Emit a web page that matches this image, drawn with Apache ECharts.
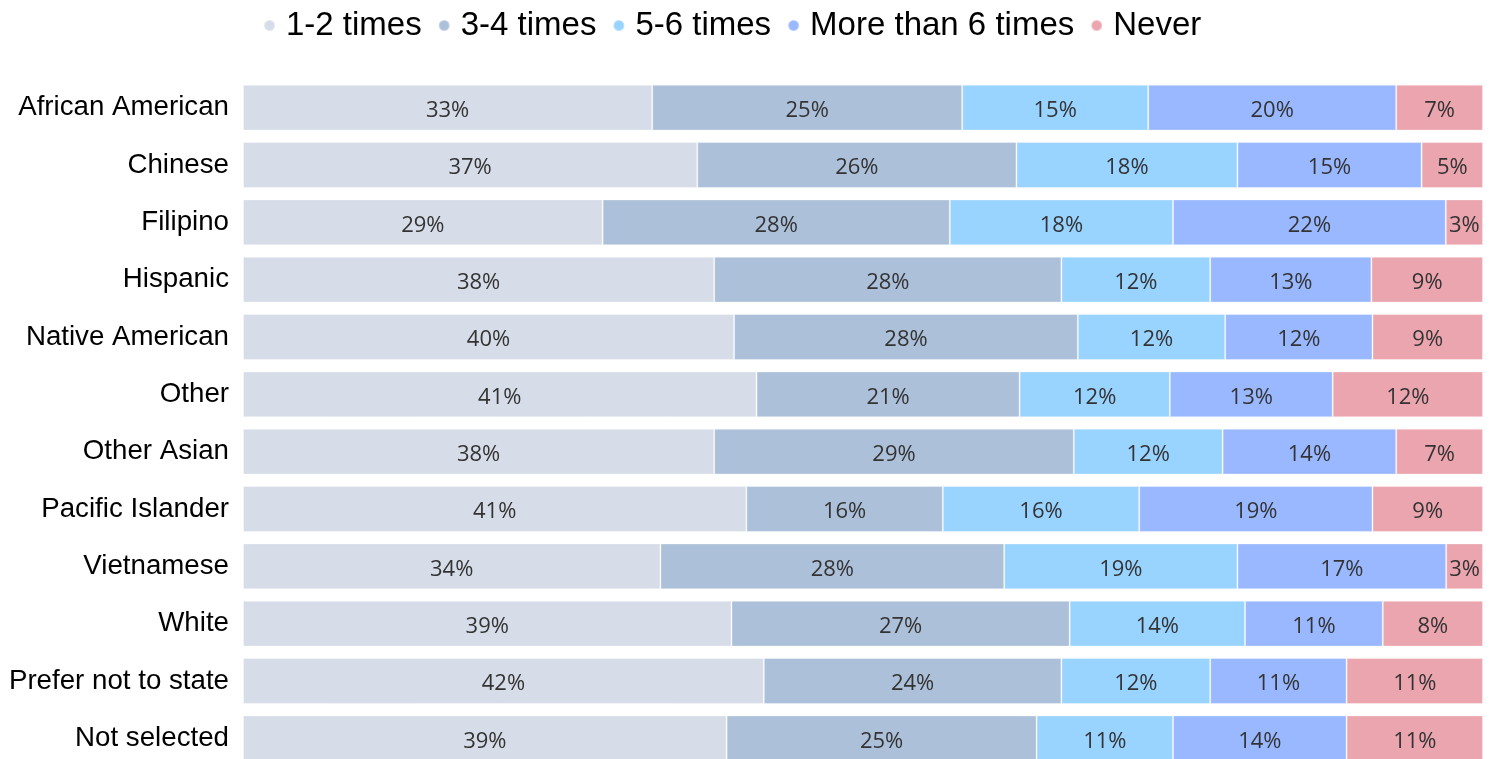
<!DOCTYPE html>
<html>
<head>
<meta charset="utf-8">
<script src="https://cdn.jsdelivr.net/npm/echarts@6/dist/echarts.min.js"></script>
<style>
  html, body { margin: 0; padding: 0; background: #ffffff; overflow: hidden; }
  #chart { width: 1494px; height: 767px; }
</style>
</head>
<body>
<div id="chart"></div>
<script>
// Groups, top to bottom
const categories = [
  'African American', 'Chinese', 'Filipino', 'Hispanic', 'Native American', 'Other',
  'Other Asian', 'Pacific Islander', 'Vietnamese', 'White', 'Prefer not to state', 'Not selected'
];

// Response frequency shares (%) per group
const times12   = [33, 37, 29, 38, 40, 41, 38, 41, 34, 39, 42, 39];
const times34   = [25, 26, 28, 28, 28, 21, 29, 16, 28, 27, 24, 25];
const times56   = [15, 18, 18, 12, 12, 12, 12, 16, 19, 14, 12, 11];
const moreThan6 = [20, 15, 22, 13, 12, 13, 14, 19, 17, 11, 11, 14];
const never     = [ 7,  5,  3,  9,  9, 12,  7,  9,  3,  8, 11, 11];

const seriesNames = ['1-2 times', '3-4 times', '5-6 times', 'More than 6 times', 'Never'];
const seriesValues = [times12, times34, times56, moreThan6, never];
const colors = ['#d6dde8', '#adc0da', '#99d3ff', '#99b8ff', '#eba5ae'];

// Each row is stacked to a full 100% bar
const rowTotals = categories.map((_, i) => seriesValues.reduce((s, arr) => s + arr[i], 0));

const chart = echarts.init(document.getElementById('chart'), null, { renderer: 'canvas' });

chart.setOption({
  backgroundColor: '#ffffff',
  animation: false,
  color: colors,
  legend: {
    top: 4,
    left: 258,
    icon: 'circle',
    itemWidth: 11,
    itemHeight: 11,
    itemGap: 16,
    textStyle: {
      fontFamily: '"Liberation Sans", Arial, sans-serif',
      fontSize: 33,
      color: '#000000',
      padding: [0, 0, 0, 6]
    },
    data: seriesNames
  },
  grid: { left: 243, right: 11, top: 79, bottom: 0, containLabel: false },
  xAxis: {
    type: 'value',
    min: 0,
    max: 100,
    show: false
  },
  yAxis: {
    type: 'category',
    inverse: true,
    data: categories,
    axisLine: { show: false },
    axisTick: { show: false },
    splitLine: { show: false },
    axisLabel: {
      margin: 14,
      padding: [3, 0, 0, 0],
      fontFamily: '"Liberation Sans", Arial, sans-serif',
      fontSize: 27.7,
      color: '#000000'
    }
  },
  series: seriesNames.map((name, k) => ({
    name: name,
    type: 'bar',
    stack: 'total',
    barCategoryGap: '20%',
    itemStyle: {
      color: colors[k],
      borderColor: 'rgba(255,255,255,0.35)',
      borderWidth: 1
    },
    label: {
      show: true,
      position: 'inside',
      offset: [0, 3],
      fontFamily: '"Open Sans", "Noto Sans", sans-serif',
      fontSize: 22,
      color: '#333333',
      formatter: p => seriesValues[k][p.dataIndex] + '%'
    },
    data: seriesValues[k].map((v, i) => v / rowTotals[i] * 100)
  }))
});
</script>
</body>
</html>
